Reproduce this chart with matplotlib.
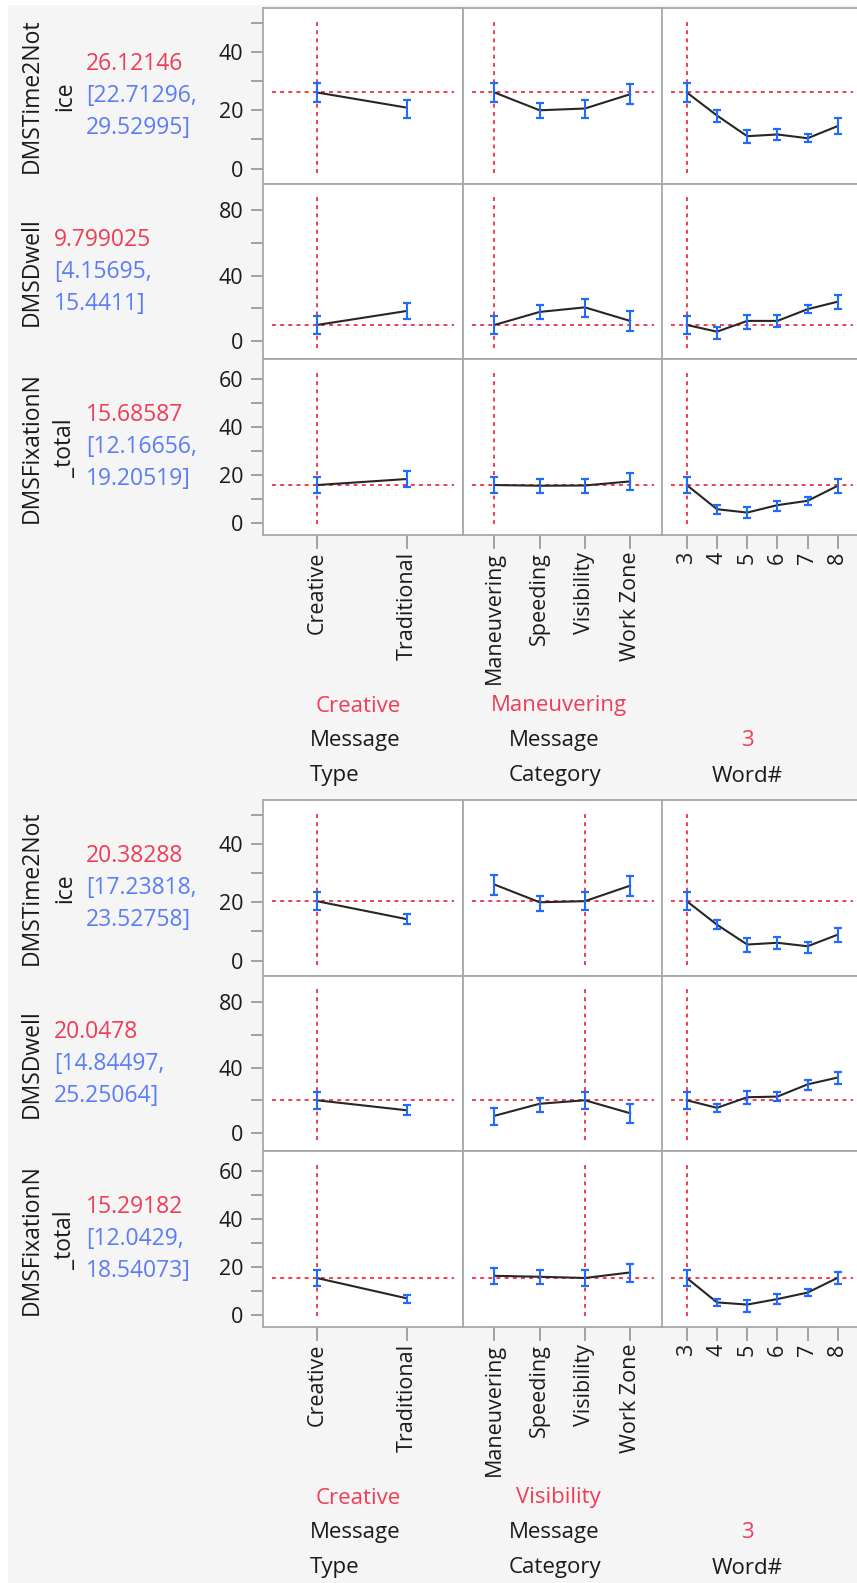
import numpy as np
import matplotlib
matplotlib.use("Agg")
import matplotlib.pyplot as plt
from matplotlib.patches import Rectangle

plt.rcParams['font.family'] = ['Open Sans', 'DejaVu Sans']

# factor levels
type_levels = ["Creative", "Traditional"]
category_levels = ["Maneuvering", "Speeding", "Visibility", "Work Zone"]
word_levels = [3, 4, 5, 6, 7, 8]

response_names = ["DMSTime2Notice", "DMSDwell", "DMSFixationN_total"]

# profile values, levels concatenated: 2 type + 4 category + 6 word#
# first block: Creative / Maneuvering / 3
t2n_top = [26.12146, 20.9, 26.12146, 20.0, 20.6, 25.5, 26.12146, 18.2, 11.1, 11.7, 10.4, 14.6]
t2n_top_lo = [22.71296, 17.4, 22.71296, 17.4, 17.5, 22.2, 22.71296, 16.1, 8.6, 9.7, 9.0, 11.9]
t2n_top_hi = [29.52995, 23.5, 29.52995, 22.4, 23.6, 28.9, 29.52995, 20.2, 13.4, 13.7, 11.8, 17.2]

dwell_top = [9.799025, 18.4, 9.799025, 17.8, 20.6, 12.3, 9.799025, 5.7, 12.3, 12.3, 19.5, 24.1]
dwell_top_lo = [4.15695, 13.2, 4.15695, 13.5, 14.9, 6.2, 4.15695, 1.2, 7.3, 8.5, 17.0, 19.8]
dwell_top_hi = [15.4411, 23.3, 15.4411, 21.9, 25.6, 18.2, 15.4411, 8.5, 15.9, 15.9, 21.9, 27.9]

fix_top = [15.68587, 18.2, 15.68587, 15.4, 15.5, 17.2, 15.68587, 5.6, 4.2, 7.3, 9.1, 15.4]
fix_top_lo = [12.16656, 15.0, 12.16656, 12.3, 12.3, 13.5, 12.16656, 3.4, 1.8, 4.8, 7.2, 12.4]
fix_top_hi = [19.20519, 21.4, 19.20519, 18.3, 18.4, 20.7, 19.20519, 7.5, 6.4, 8.9, 10.9, 18.3]

# second block: Creative / Visibility / 3
t2n_bot = [20.38288, 14.2, 26.1, 20.0, 20.38288, 25.7, 20.38288, 12.3, 5.5, 6.1, 4.9, 8.9]
t2n_bot_lo = [17.23818, 12.4, 22.6, 17.1, 17.23818, 22.0, 17.23818, 10.9, 3.0, 4.0, 2.7, 6.4]
t2n_bot_hi = [23.52758, 15.9, 29.5, 22.0, 23.52758, 28.9, 23.52758, 13.8, 7.8, 8.2, 6.4, 11.2]

dwell_bot = [20.0478, 13.9, 10.5, 17.9, 20.0478, 12.1, 20.0478, 15.4, 21.9, 22.3, 29.8, 34.0]
dwell_bot_lo = [14.84497, 10.9, 4.8, 12.9, 14.84497, 6.0, 14.84497, 12.6, 18.0, 19.6, 26.6, 30.3]
dwell_bot_hi = [25.25064, 16.9, 15.5, 21.5, 25.25064, 17.9, 25.25064, 17.9, 25.8, 24.9, 32.6, 37.2]

fix_bot = [15.29182, 6.8, 16.2, 15.8, 15.29182, 17.6, 15.29182, 5.1, 4.2, 6.5, 9.2, 15.4]
fix_bot_lo = [12.0429, 4.9, 12.8, 12.8, 12.0429, 13.8, 12.0429, 3.6, 0.9, 4.3, 7.6, 12.9]
fix_bot_hi = [18.54073, 8.3, 19.4, 18.7, 18.54073, 21.1, 18.54073, 6.5, 6.2, 8.5, 10.8, 17.8]

# current factor settings for each block (index into the levels)
current_top = [0, 0, 0]
current_bot = [0, 2, 0]

W, H = 857, 1583
RED = '#F03C55'
BLUE_TXT = '#5A7CF5'
BLUE_BAR = '#1F6BFF'
GRID = '#A8A8A8'


def box(x0, y0, w, h):
    return [x0 / W, 1 - (y0 + h) / H, w / W, h / H]


def px_x(x):
    return x / W


def px_y(y):
    return 1 - y / H


fig = plt.figure(figsize=(W / 100, H / 100), dpi=100)
fig.patch.set_facecolor('white')
fig.patches.append(Rectangle((px_x(8), 0), 1, px_y(5), transform=fig.transFigure,
                             facecolor='#F5F5F5', edgecolor='none', zorder=-10))

col_x = [262.7, 462.7, 662.3]
col_w = 200
row_h = 175.7
xlims = [(-0.6, 1.62), (-0.7, 3.72), (2.19, 8.81)]
ylims = [(-5.2, 55.1), (-11.3, 96.4), (-5.2, 68.1)]
major = [[0, 20, 40], [0, 40, 80], [0, 20, 40, 60]]
minor = [[10, 30, 50], [20, 60], [10, 30, 50]]
row_labels = [["DMSTime2Not", "ice"], ["DMSDwell"], ["DMSFixationN", "_total"]]
factor_titles = ["Message\nType", "Message\nCategory", "Word#"]
level_sets = [type_levels, category_levels, word_levels]

blocks = [
    (8, current_top, [(t2n_top, t2n_top_lo, t2n_top_hi),
                      (dwell_top, dwell_top_lo, dwell_top_hi),
                      (fix_top, fix_top_lo, fix_top_hi)]),
    (800, current_bot, [(t2n_bot, t2n_bot_lo, t2n_bot_hi),
                        (dwell_bot, dwell_bot_lo, dwell_bot_hi),
                        (fix_bot, fix_bot_lo, fix_bot_hi)]),
]

for top, current, series in blocks:
    for r, (mean, lo, hi) in enumerate(series):
        mean = np.array(mean)
        lo = np.array(lo)
        hi = np.array(hi)
        splits = np.cumsum([len(l) for l in level_sets])[:-1]
        parts = zip(np.split(mean, splits), np.split(lo, splits), np.split(hi, splits))
        y0 = top + r * row_h
        pred = mean[current[0]]
        for c, (m, l, h) in enumerate(parts):
            ax = fig.add_axes(box(col_x[c], y0, col_w, row_h))
            levels = level_sets[c]
            if c == 2:
                x = np.array(levels, dtype=float)
            else:
                x = np.arange(len(levels))
            ax.plot(x, m, color='#262626', lw=1.5, zorder=3)
            ax.errorbar(x, m, yerr=[m - l, h - m], fmt='none', ecolor=BLUE_BAR,
                        elinewidth=1.5, capsize=2.9, capthick=1.6, zorder=4)
            ax.axhline(pred, xmin=0.045, xmax=0.955, color=RED, lw=1.4,
                       linestyle=(0, (2, 2.2)), zorder=2)
            ax.axvline(x[current[c]], ymin=0.063, ymax=0.937, color=RED, lw=1.4,
                       linestyle=(0, (2, 2.2)), zorder=2)
            ax.set_xlim(xlims[c])
            ax.set_ylim(ylims[r])
            ax.set_facecolor('white')
            for s in ax.spines.values():
                s.set_color(GRID)
                s.set_linewidth(1.3)
            if c == 0:
                ax.set_yticks(major[r])
                ax.set_yticks(minor[r], minor=True)
                ax.tick_params(axis='y', which='both', length=9, width=1.1,
                               color='#8C8C8C', pad=5, labelsize=15.5,
                               labelcolor='#1A1A1A')
            else:
                ax.set_yticks([])
            if r == 2:
                ax.set_xticks(x)
                ax.set_xticklabels([str(v) for v in levels], rotation=90)
                ax.tick_params(axis='x', length=10, width=1.1, color='#8C8C8C',
                               pad=2, labelsize=15.5, labelcolor='#1A1A1A')
            else:
                ax.set_xticks([])

        # response name and prediction with interval
        yc = y0 + row_h / 2
        lines = row_labels[r]
        if len(lines) == 2:
            fig.text(px_x(32), px_y(yc), lines[0], rotation=90, ha='center',
                     va='center', fontsize=16.5, color='#1A1A1A')
            fig.text(px_x(65), px_y(yc), lines[1], rotation=90, ha='center',
                     va='center', fontsize=16.5, color='#1A1A1A')
            tx = 86
        else:
            fig.text(px_x(32), px_y(yc), lines[0], rotation=90, ha='center',
                     va='center', fontsize=16.5, color='#1A1A1A')
            tx = 54
        fig.text(px_x(tx), px_y(yc - 32), f"{pred:.7g}", ha='left', va='center',
                 fontsize=16.5, color=RED)
        fig.text(px_x(tx), px_y(yc), f"[{lo[current[0]]:.7g},", ha='left',
                 va='center', fontsize=16.5, color=BLUE_TXT)
        fig.text(px_x(tx), px_y(yc + 32), f"{hi[current[0]]:.7g}]", ha='left',
                 va='center', fontsize=16.5, color=BLUE_TXT)

    # factor names with current settings
    for c in range(3):
        xc = col_x[c] + col_w / 2
        setting = str(level_sets[c][current[c]])
        if c < 2:
            fig.text(px_x(xc - 4), px_y(top + 698), setting, ha='center', va='center',
                     fontsize=16, color=RED)
            fig.text(px_x(xc - 8), px_y(top + 750), factor_titles[c], ha='center',
                     va='center', ma='left', fontsize=16, color='#1A1A1A',
                     linespacing=1.85)
        else:
            fig.text(px_x(xc - 15), px_y(top + 733), setting, ha='center', va='center',
                     fontsize=16, color=RED)
            fig.text(px_x(xc - 15), px_y(top + 768), factor_titles[c], ha='center',
                     va='center', fontsize=16, color='#1A1A1A')

fig.savefig("out.png", dpi=100, facecolor=fig.get_facecolor())
